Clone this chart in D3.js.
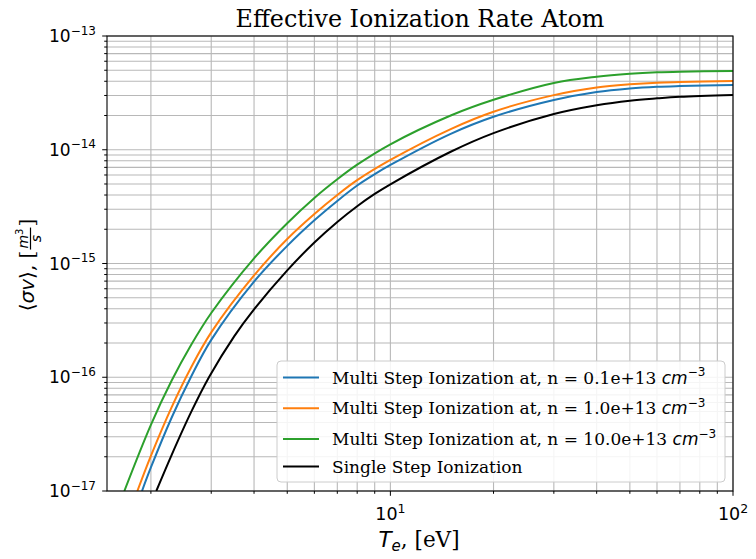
<!DOCTYPE html>
<html><head><meta charset="utf-8">
<script src="https://cdn.jsdelivr.net/npm/d3@7"></script>
<style>body{margin:0;background:#fff}</style>
</head><body>
<svg id="chart" width="756" height="559"></svg>
<script>
// ---------- data ----------
const title = "Effective Ionization Rate Atom";
const densities = ["0.1", "1.0", "10.0"];
const colors = ["#1f77b4", "#ff7f0e", "#2ca02c", "#000000"];

const teBlue   = [1.884, 2.0, 2.3, 2.62, 3.0, 4.0, 5.0, 6.0, 7.0, 8.0, 9.0, 10, 15, 20, 30, 40, 50, 60, 70, 100];
const rateBlue = [1.0e-17, 1.61e-17, 4.43e-17, 1.01e-16, 2.13e-16, 6.93e-16, 1.43e-15, 2.4e-15, 3.55e-15, 4.85e-15, 6.1e-15, 7.35e-15, 1.38e-14, 1.95e-14, 2.74e-14, 3.22e-14, 3.46e-14, 3.58e-14, 3.63e-14, 3.70e-14];

const teOrange   = [1.826, 2.0, 2.3, 2.62, 3.0, 4.0, 5.0, 6.0, 7.0, 8.0, 10, 15, 20, 30, 40, 50, 60, 70, 100];
const rateOrange = [1.0e-17, 2.04e-17, 5.47e-17, 1.22e-16, 2.48e-16, 7.85e-16, 1.64e-15, 2.72e-15, 4.0e-15, 5.4e-15, 8.13e-15, 1.52e-14, 2.16e-14, 3.02e-14, 3.52e-14, 3.76e-14, 3.89e-14, 3.94e-14, 4.02e-14];

const teGreen   = [1.673, 2.0, 2.3, 2.62, 3.0, 4.0, 5.0, 6.0, 7.0, 8.0, 10, 15, 20, 30, 40, 50, 60, 70, 100];
const rateGreen = [1.0e-17, 3.82e-17, 9.35e-17, 1.92e-16, 3.67e-16, 1.11e-15, 2.26e-15, 3.77e-15, 5.5e-15, 7.39e-15, 1.116e-14, 2.0e-14, 2.75e-14, 3.87e-14, 4.39e-14, 4.66e-14, 4.80e-14, 4.86e-14, 4.92e-14];

const teBlack   = [2.074, 2.3, 2.62, 2.96, 3.5, 4.0, 5.0, 6.0, 7.0, 8.0, 9.0, 10, 15, 20, 30, 40, 50, 60, 70, 100];
const rateBlack = [1.0e-17, 2.08e-17, 4.93e-17, 1.01e-16, 2.29e-16, 3.95e-16, 8.7e-16, 1.53e-15, 2.32e-15, 3.19e-15, 4.09e-15, 4.97e-15, 9.6e-15, 1.4e-14, 2.06e-14, 2.46e-14, 2.70e-14, 2.83e-14, 2.92e-14, 3.03e-14];

const xDomain = [1.489, 100];
const yDomain = [1e-17, 1e-13];
const xMajorTicks = [10, 100];
const xTickExp = ["1", "2"];
const yMajorTicks = [1e-17, 1e-16, 1e-15, 1e-14, 1e-13];
const yTickExp = ["−17", "−16", "−15", "−14", "−13"];

// ---------- layout ----------
const svg = d3.select("#chart");
const L = 107, R = 733, T = 36, B = 491;
const x = d3.scaleLog().domain(xDomain).range([L, R]);
const y = d3.scaleLog().domain(yDomain).range([B, T]);

const serif = "'DejaVu Serif', serif";
const sans = "'DejaVu Sans', sans-serif";

// minor tick values
const xMinor = [];
[1, 10].forEach(d => { for (let m = 1; m <= 9; m++) { const v = m * d; if (v >= xDomain[0] && v <= xDomain[1] && !xMajorTicks.includes(v)) xMinor.push(v); } });
const yMinor = [];
[-17, -16, -15, -14].forEach(e => { for (let m = 2; m <= 9; m++) yMinor.push(m * Math.pow(10, e)); });

// grid
const grid = svg.append("g").attr("stroke", "#b8b8b8").attr("stroke-width", 1.1);
xMinor.concat(xMajorTicks).forEach(v => grid.append("line").attr("x1", x(v)).attr("x2", x(v)).attr("y1", T).attr("y2", B));
yMinor.concat(yMajorTicks).forEach(v => grid.append("line").attr("y1", y(v)).attr("y2", y(v)).attr("x1", L).attr("x2", R));

// curves
svg.append("clipPath").attr("id", "clip").append("rect").attr("x", L).attr("y", T).attr("width", R - L).attr("height", B - T);
const line = d3.line().x(d => x(d[0])).y(d => y(d[1])).curve(d3.curveCatmullRom.alpha(0.5));
const series = [
  [teBlue, rateBlue], [teOrange, rateOrange], [teGreen, rateGreen], [teBlack, rateBlack]
];
series.forEach((s, i) => {
  svg.append("path").attr("clip-path", "url(#clip)")
    .datum(s[0].map((t, j) => [t, s[1][j]]))
    .attr("d", line).attr("fill", "none").attr("stroke", colors[i]).attr("stroke-width", 2);
});

// axes spines
svg.append("rect").attr("x", L).attr("y", T).attr("width", R - L).attr("height", B - T)
  .attr("fill", "none").attr("stroke", "#000").attr("stroke-width", 1.1);

// ticks
const tk = svg.append("g").attr("stroke", "#000").attr("stroke-width", 1);
xMajorTicks.forEach(v => tk.append("line").attr("x1", x(v)).attr("x2", x(v)).attr("y1", B).attr("y2", B + 4.8));
xMinor.forEach(v => tk.append("line").attr("x1", x(v)).attr("x2", x(v)).attr("y1", B).attr("y2", B + 2.8));
yMajorTicks.forEach(v => tk.append("line").attr("y1", y(v)).attr("y2", y(v)).attr("x1", L).attr("x2", L - 4.8));
yMinor.forEach(v => tk.append("line").attr("y1", y(v)).attr("y2", y(v)).attr("x1", L).attr("x2", L - 2.8));

// tick labels
xMajorTicks.forEach((v, i) => {
  const t = svg.append("text").attr("x", x(v)).attr("y", 520).attr("text-anchor", "middle")
    .attr("font-family", sans).attr("font-size", 17.5).attr("fill", "#000");
  t.append("tspan").text("10");
  t.append("tspan").attr("dy", -7.5).attr("font-size", 12.5).text(xTickExp[i]);
});
yMajorTicks.forEach((v, i) => {
  const t = svg.append("text").attr("x", 96).attr("y", y(v) + 6.2).attr("text-anchor", "end")
    .attr("font-family", sans).attr("font-size", 17).attr("fill", "#000");
  t.append("tspan").text("10");
  t.append("tspan").attr("dy", -7.5).attr("font-size", 12).text(yTickExp[i]);
});

// title
svg.append("text").attr("x", (L + R) / 2).attr("y", 27).attr("text-anchor", "middle")
  .attr("font-family", serif).attr("font-size", 23.8).attr("fill", "#000").text(title);

// x label
{
  const t = svg.append("text").attr("x", 419).attr("y", 547).attr("text-anchor", "middle")
    .attr("font-family", serif).attr("font-size", 21.5).attr("fill", "#000");
  t.append("tspan").attr("font-family", sans).attr("font-style", "italic").text("T");
  t.append("tspan").attr("font-family", sans).attr("font-style", "italic").attr("font-size", 15).attr("dy", 4).text("e");
  t.append("tspan").attr("dy", -4).text(", [eV]");
}

// y label (rotated)
{
  const g = svg.append("g").attr("transform", "translate(34,265) rotate(-90)");
  let cx = 0;
  function piece(txt, fam, style, size, dy) {
    const el = g.append("text").attr("x", cx).attr("y", dy || 0).attr("font-family", fam)
      .attr("font-style", style).attr("font-size", size).attr("fill", "#000").text(txt);
    const w = el.node().getComputedTextLength();
    cx += w;
    return w;
  }
  piece("⟨", sans, "normal", 20);
  piece("σv", sans, "italic", 20);
  piece("⟩", sans, "normal", 20);
  piece(", [", serif, "normal", 20);
  cx += 1;
  const fx = cx;
  const num = g.append("text").attr("font-family", sans).attr("font-size", 14).attr("fill", "#000").attr("y", -6);
  num.append("tspan").attr("font-style", "italic").text("m");
  num.append("tspan").attr("font-size", 10).attr("dy", -5).text("3");
  const nw = num.node().getComputedTextLength();
  const den = g.append("text").attr("font-family", sans).attr("font-style", "italic").attr("font-size", 14).attr("fill", "#000").attr("y", 7).text("s");
  const dw = den.node().getComputedTextLength();
  const fw = Math.max(nw, dw) + 2;
  num.attr("x", fx + (fw - nw) / 2);
  den.attr("x", fx + (fw - dw) / 2);
  g.append("line").attr("x1", fx).attr("x2", fx + fw).attr("y1", -3.5).attr("y2", -3.5).attr("stroke", "#000").attr("stroke-width", 1.2);
  cx += fw + 1;
  piece("]", serif, "normal", 20);
  const total = cx;
  g.selectAll("*").each(function () {
    const s = d3.select(this);
    if (this.tagName === "line") { s.attr("x1", +s.attr("x1") - total / 2).attr("x2", +s.attr("x2") - total / 2); }
    else if (this.tagName === "text") { s.attr("x", +s.attr("x") - total / 2); }
  });
}

// legend
{
  const lg = svg.append("g");
  lg.append("rect").attr("x", 277).attr("y", 361).attr("width", 448).attr("height", 121).attr("rx", 4)
    .attr("fill", "#fff").attr("fill-opacity", 0.85).attr("stroke", "#cccccc").attr("stroke-width", 1);
  const rows = [377.5, 408.3, 439, 466.5];
  const labels = densities.map(d => "Multi Step Ionization at, n = " + d + "e+13 ");
  labels.push("Single Step Ionization");
  labels.forEach((lab, i) => {
    lg.append("line").attr("x1", 283).attr("x2", 319).attr("y1", rows[i]).attr("y2", rows[i])
      .attr("stroke", colors[i]).attr("stroke-width", 2);
    const t = lg.append("text").attr("x", 332).attr("y", rows[i] + 6)
      .attr("font-family", serif).attr("font-size", 17).attr("fill", "#000");
    t.append("tspan").text(lab);
    if (i < 3) {
      t.append("tspan").attr("font-family", sans).attr("font-style", "italic").text("cm");
      t.append("tspan").attr("font-family", sans).attr("font-size", 12).attr("dy", -7.5).text("−3");
    }
  });
}
</script>
</body></html>
